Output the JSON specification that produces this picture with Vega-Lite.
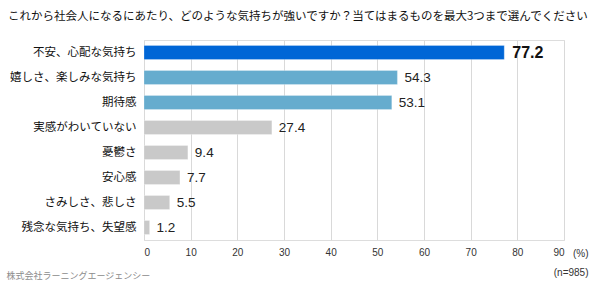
{
  "$schema": "https://vega.github.io/schema/vega-lite/v6.json",
  "autosize": "none",
  "width": 420,
  "height": 200,
  "padding": {"left": 144, "top": 40, "right": 36, "bottom": 46},
  "background": "white",
  "title": {
    "text": "これから社会人になるにあたり、どのような気持ちが強いですか？当てはまるものを最大3つまで選んでください",
    "anchor": "start",
    "frame": "group",
    "dx": -136,
    "offset": 18,
    "font": "Noto Sans CJK JP",
    "fontSize": 11.5,
    "fontWeight": "normal",
    "color": "#111111"
  },
  "data": {
    "values": [
      {"label": "不安、心配な気持ち", "value": 77.2, "grp": "top"},
      {"label": "嬉しさ、楽しみな気持ち", "value": 54.3, "grp": "high"},
      {"label": "期待感", "value": 53.1, "grp": "high"},
      {"label": "実感がわいていない", "value": 27.4, "grp": "other"},
      {"label": "憂鬱さ", "value": 9.4, "grp": "other"},
      {"label": "安心感", "value": 7.7, "grp": "other"},
      {"label": "さみしさ、悲しさ", "value": 5.5, "grp": "other"},
      {"label": "残念な気持ち、失望感", "value": 1.2, "grp": "other"}
    ]
  },
  "encoding": {
    "y": {
      "field": "label",
      "type": "nominal",
      "sort": null,
      "scale": {"paddingInner": 0.44, "paddingOuter": 0.22},
      "axis": {
        "title": "株式会社ラーニングエージェンシー",
        "titleAngle": 0,
        "titleAlign": "left",
        "titleBaseline": "alphabetic",
        "titleX": -138,
        "titleY": 238,
        "titleFont": "Noto Sans CJK JP",
        "titleFontSize": 9,
        "titleFontWeight": "normal",
        "titleColor": "#8c8c8c",
        "domain": false,
        "ticks": false,
        "labelPadding": 8,
        "labelFont": "Noto Sans CJK JP",
        "labelFontSize": 11.5,
        "labelColor": "#111111",
        "labelLimit": 200
      }
    },
    "x": {
      "field": "value",
      "type": "quantitative",
      "scale": {"domain": [0, 90], "nice": false},
      "axis": {
        "values": [0, 10, 20, 30, 40, 50, 60, 70, 80, 90],
        "title": ["(%)", "(n=985)"],
        "titleAlign": "right",
        "titleBaseline": "alphabetic",
        "titleX": 444,
        "titleY": 16,
        "titleLineHeight": 19.5,
        "titleFont": "Liberation Sans",
        "titleFontSize": 10,
        "titleFontWeight": "normal",
        "titleColor": "#333333",
        "domain": false,
        "ticks": false,
        "grid": true,
        "gridColor": "#d9d9d9",
        "gridWidth": 1,
        "labelPadding": 7,
        "labelFont": "Liberation Sans",
        "labelFontSize": 10,
        "labelColor": "#333333"
      }
    }
  },
  "layer": [
    {
      "mark": {"type": "bar", "stroke": "#ffffff", "strokeOpacity": 0.5, "strokeWidth": 0.5},
      "encoding": {
        "color": {
          "field": "grp",
          "type": "nominal",
          "scale": {"domain": ["top", "high", "other"], "range": ["#0066d6", "#66acce", "#c9c9c9"]},
          "legend": null
        }
      }
    },
    {
      "transform": [{"filter": "datum.grp != 'top'"}],
      "mark": {"type": "text", "align": "left", "baseline": "middle", "dx": 7, "font": "Liberation Sans", "fontSize": 13.5, "color": "#222222"},
      "encoding": {"text": {"field": "value", "type": "quantitative", "format": ".1f"}}
    },
    {
      "transform": [{"filter": "datum.grp == 'top'"}],
      "mark": {"type": "text", "align": "left", "baseline": "middle", "dx": 8, "font": "Liberation Sans", "fontSize": 16, "fontWeight": "bold", "color": "#111111"},
      "encoding": {"text": {"field": "value", "type": "quantitative", "format": ".1f"}}
    }
  ]
}
